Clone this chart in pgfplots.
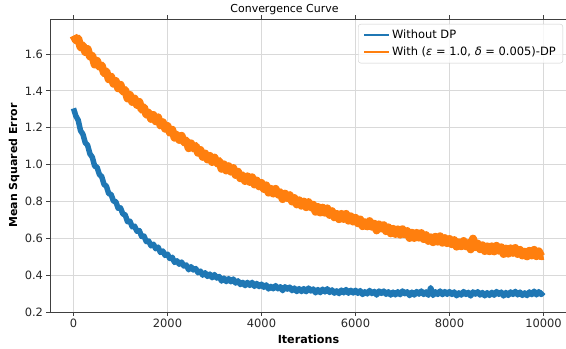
\documentclass[border=0pt]{standalone}
\usepackage{fontspec}
\setmainfont{DejaVu Sans}
\usepackage{pgfplots}
\pgfplotsset{compat=1.18}
\definecolor{tabblue}{HTML}{1F77B4}
\definecolor{taborange}{HTML}{FF7F0E}
\begin{document}
\begin{tikzpicture}
\useasboundingbox (-50bp,-37bp) rectangle (516bp,312bp);
\begin{axis}[
  at={(0,0)}, anchor=south west,
  width=517bp, height=293bp, scale only axis,
  xmin=-500, xmax=10500, ymin=0.2, ymax=1.79,
  xtick={0,2000,4000,6000,8000,10000},
  ytick={0.2,0.4,0.6,0.8,1.0,1.2,1.4,1.6},
  scaled x ticks=false, scaled y ticks=false,
  /pgf/number format/1000 sep={},
  yticklabel style={/pgf/number format/fixed,/pgf/number format/fixed zerofill,/pgf/number format/precision=1},
  /pgf/number format/assume math mode=true,
  tick label style={font=\fontsize{11.5}{13}\selectfont, text=black!85},
  tick align=outside, major tick length=3.5bp,
  tick style={black!75, line width=0.8bp},
  axis line style={black!75, line width=0.8bp},
  grid=major, major grid style={black!15, line width=0.8bp},
  xlabel={\bfseries Iterations}, ylabel={\bfseries Mean Squared Error},
  every axis x label/.style={at={(axis description cs:0.5,0)}, yshift=-27bp, anchor=center, font=\fontsize{11.2}{13}\selectfont},
  every axis y label/.style={at={(axis description cs:0,0.5)}, xshift=-36bp, rotate=90, anchor=center, font=\fontsize{11}{13}\selectfont},
  title={Convergence Curve},
  every axis title/.style={at={(axis description cs:0,1)}, xshift=234.5bp, anchor=base, yshift=6bp, font=\fontsize{11}{13}\selectfont},
  legend style={at={(1,1)}, anchor=north east, xshift=-4bp, yshift=-5bp,
    draw=black!20, rounded corners=2.5bp, fill=white, fill opacity=0.8, draw opacity=1, text opacity=1,
    font=\fontsize{11.5}{13}\selectfont, inner xsep=5bp, inner ysep=4bp, row sep=2.5bp},
  legend cell align=left,
]
\addlegendimage{legend image code/.code={\draw[color=tabblue, line width=1.8bp, opacity=1] (0bp,0bp) -- (25bp,0bp);}}
\addlegendentry{Without DP}
\addlegendimage{legend image code/.code={\draw[color=taborange, line width=1.8bp, opacity=1] (0bp,0bp) -- (25bp,0bp);}}
\addlegendentry{With (\textit{ε} = 1.0, \textit{δ} = 0.005)-DP}
\addplot[color=tabblue, line width=5.5bp, line join=round, forget plot] coordinates {
(0,1.305)(50,1.264)(100,1.241)(150,1.184)(200,1.165)(250,1.119)(300,1.105)(350,1.058)(400,1.040)(450,0.992)
(500,0.986)(550,0.947)(600,0.935)(650,0.892)(700,0.883)(750,0.842)(800,0.838)(850,0.802)(900,0.799)(950,0.763)
(1000,0.765)(1050,0.732)(1100,0.727)(1150,0.690)(1200,0.693)(1250,0.662)(1300,0.666)(1350,0.638)(1400,0.642)(1450,0.610)
(1500,0.612)(1550,0.582)(1600,0.585)(1650,0.559)(1700,0.568)(1750,0.543)(1800,0.552)(1850,0.523)(1900,0.531)(1950,0.507)
(2000,0.514)(2050,0.490)(2100,0.497)(2150,0.469)(2200,0.478)(2250,0.459)(2300,0.471)(2350,0.449)(2400,0.455)(2450,0.429)
(2500,0.446)(2550,0.428)(2600,0.436)(2650,0.413)(2700,0.422)(2750,0.400)(2800,0.413)(2850,0.393)(2900,0.406)(2950,0.386)
(3000,0.403)(3050,0.384)(3100,0.393)(3150,0.368)(3200,0.384)(3250,0.365)(3300,0.381)(3350,0.364)(3400,0.379)(3450,0.357)
(3500,0.369)(3550,0.349)(3600,0.361)(3650,0.343)(3700,0.361)(3750,0.344)(3800,0.361)(3850,0.339)(3900,0.355)(3950,0.338)
(4000,0.351)(4050,0.334)(4100,0.347)(4150,0.325)(4200,0.339)(4250,0.326)(4300,0.343)(4350,0.326)(4400,0.337)(4450,0.316)
(4500,0.337)(4550,0.324)(4600,0.335)(4650,0.316)(4700,0.330)(4750,0.311)(4800,0.327)(4850,0.311)(4900,0.327)(4950,0.310)
(5000,0.330)(5050,0.314)(5100,0.325)(5150,0.304)(5200,0.322)(5250,0.305)(5300,0.324)(5350,0.309)(5400,0.326)(5450,0.306)
(5500,0.320)(5550,0.302)(5600,0.315)(5650,0.300)(5700,0.319)(5750,0.304)(5800,0.322)(5850,0.302)(5900,0.318)(5950,0.303)
(6000,0.318)(6050,0.301)(6100,0.316)(6150,0.295)(6200,0.310)(6250,0.298)(6300,0.317)(6350,0.300)(6400,0.312)(6450,0.292)
(6500,0.314)(6550,0.301)(6600,0.314)(6650,0.296)(6700,0.310)(6750,0.292)(6800,0.308)(6850,0.293)(6900,0.310)(6950,0.294)
(7000,0.314)(7050,0.299)(7100,0.310)(7150,0.289)(7200,0.308)(7250,0.292)(7300,0.311)(7350,0.297)(7400,0.314)(7450,0.295)
(7500,0.309)(7550,0.291)(7600,0.332)(7650,0.290)(7700,0.310)(7750,0.295)(7800,0.314)(7850,0.294)(7900,0.311)(7950,0.296)
(8000,0.311)(8050,0.295)(8100,0.309)(8150,0.288)(8200,0.304)(8250,0.292)(8300,0.311)(8350,0.295)(8400,0.307)(8450,0.287)
(8500,0.309)(8550,0.297)(8600,0.310)(8650,0.292)(8700,0.306)(8750,0.288)(8800,0.305)(8850,0.290)(8900,0.307)(8950,0.291)
(9000,0.311)(9050,0.296)(9100,0.308)(9150,0.287)(9200,0.306)(9250,0.290)(9300,0.309)(9350,0.295)(9400,0.312)(9450,0.293)
(9500,0.308)(9550,0.290)(9600,0.304)(9650,0.289)(9700,0.309)(9750,0.294)(9800,0.313)(9850,0.293)(9900,0.310)(9950,0.295)
(10000,0.308)
};
\addplot[color=taborange, line width=8bp, line join=round, forget plot] coordinates {
(0,1.700)(50,1.675)(100,1.684)(150,1.636)(200,1.646)(250,1.611)(300,1.627)(350,1.586)(400,1.590)(450,1.543)
(500,1.563)(550,1.531)(600,1.538)(650,1.496)(700,1.505)(750,1.463)(800,1.477)(850,1.439)(900,1.453)(950,1.414)
(1000,1.433)(1050,1.397)(1100,1.404)(1150,1.359)(1200,1.378)(1250,1.340)(1300,1.358)(1350,1.324)(1400,1.340)(1450,1.298)
(1500,1.310)(1550,1.271)(1600,1.282)(1650,1.248)(1700,1.269)(1750,1.235)(1800,1.256)(1850,1.213)(1900,1.230)(1950,1.195)
(2000,1.209)(2050,1.174)(2100,1.189)(2150,1.146)(2200,1.162)(2250,1.134)(2300,1.156)(2350,1.121)(2400,1.130)(2450,1.089)
(2500,1.115)(2550,1.088)(2600,1.101)(2650,1.064)(2700,1.079)(2750,1.042)(2800,1.060)(2850,1.028)(2900,1.047)(2950,1.014)
(3000,1.038)(3050,1.007)(3100,1.019)(3150,0.977)(3200,1.001)(3250,0.968)(3300,0.991)(3350,0.962)(3400,0.981)(3450,0.944)
(3500,0.961)(3550,0.926)(3600,0.941)(3650,0.911)(3700,0.936)(3750,0.906)(3800,0.931)(3850,0.892)(3900,0.913)(3950,0.882)
(4000,0.900)(4050,0.868)(4100,0.887)(4150,0.848)(4200,0.868)(4250,0.843)(4300,0.868)(4350,0.837)(4400,0.850)(4450,0.813)
(4500,0.842)(4550,0.818)(4600,0.834)(4650,0.800)(4700,0.818)(4750,0.784)(4800,0.806)(4850,0.777)(4900,0.799)(4950,0.769)
(5000,0.796)(5050,0.768)(5100,0.782)(5150,0.744)(5200,0.770)(5250,0.740)(5300,0.766)(5350,0.739)(5400,0.762)(5450,0.727)
(5500,0.747)(5550,0.714)(5600,0.732)(5650,0.704)(5700,0.732)(5750,0.705)(5800,0.732)(5850,0.696)(5900,0.719)(5950,0.691)
(6000,0.711)(6050,0.682)(6100,0.702)(6150,0.666)(6200,0.687)(6250,0.665)(6300,0.693)(6350,0.663)(6400,0.679)(6450,0.643)
(6500,0.675)(6550,0.653)(6600,0.671)(6650,0.639)(6700,0.659)(6750,0.627)(6800,0.651)(6850,0.624)(6900,0.648)(6950,0.620)
(7000,0.649)(7050,0.622)(7100,0.639)(7150,0.602)(7200,0.630)(7250,0.602)(7300,0.629)(7350,0.604)(7400,0.628)(7450,0.596)
(7500,0.617)(7550,0.586)(7600,0.605)(7650,0.579)(7700,0.608)(7750,0.582)(7800,0.611)(7850,0.576)(7900,0.601)(7950,0.574)
(8000,0.596)(8050,0.568)(8100,0.590)(8150,0.555)(8200,0.578)(8250,0.557)(8300,0.585)(8350,0.557)(8400,0.574)(8450,0.540)
(8500,0.598)(8550,0.552)(8600,0.571)(8650,0.541)(8700,0.562)(8750,0.531)(8800,0.556)(8850,0.530)(8900,0.556)(8950,0.529)
(9000,0.559)(9050,0.533)(9100,0.551)(9150,0.515)(9200,0.544)(9250,0.517)(9300,0.545)(9350,0.521)(9400,0.547)(9450,0.515)
(9500,0.537)(9550,0.507)(9600,0.527)(9650,0.502)(9700,0.532)(9750,0.507)(9800,0.537)(9850,0.503)(9900,0.529)(9950,0.503)
(10000,0.505)
};
\end{axis}
\end{tikzpicture}
\end{document}
